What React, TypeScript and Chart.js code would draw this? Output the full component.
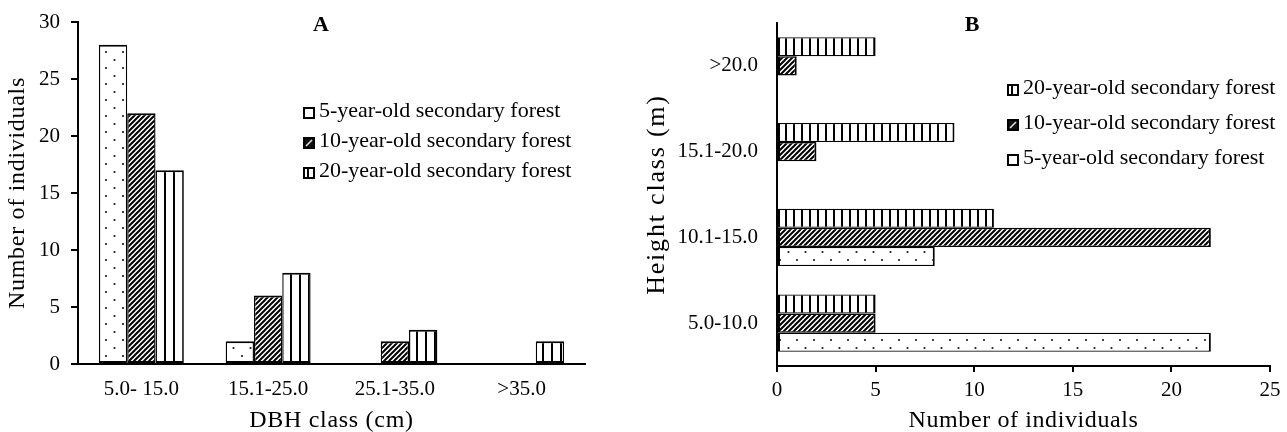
import React, { useEffect, useRef } from 'react';
import { Chart, registerables } from 'chart.js';

Chart.register(...registerables);

// ---------- data ----------
const dbhClasses = ['5.0- 15.0', '15.1-25.0', '25.1-35.0', '>35.0'];
const dbh5yr = [28, 2, 0, 0];
const dbh10yr = [22, 6, 2, 0];
const dbh20yr = [17, 8, 3, 2];

const heightClasses = ['>20.0', '15.1-20.0', '10.1-15.0', '5.0-10.0'];
const height20yr = [5, 9, 11, 5];
const height10yr = [1, 2, 22, 5];
const height5yr = [0, 0, 8, 22];

const name5 = '5-year-old secondary forest';
const name10 = '10-year-old secondary forest';
const name20 = '20-year-old secondary forest';

const FONT = '"Liberation Serif", "Times New Roman", Times, serif';

// ---------- patterns ----------
function makeTile(w: number, h: number, draw: (g: CanvasRenderingContext2D) => void) {
  const c = document.createElement('canvas');
  c.width = w;
  c.height = h;
  const g = c.getContext('2d') as CanvasRenderingContext2D;
  g.fillStyle = '#fff';
  g.fillRect(0, 0, w, h);
  draw(g);
  return c;
}

function dotPattern(ctx: CanvasRenderingContext2D) {
  const t = makeTile(17, 16, (g) => {
    g.fillStyle = '#1a1a1a';
    g.beginPath();
    g.arc(4, 4, 1.1, 0, Math.PI * 2);
    g.fill();
    g.beginPath();
    g.arc(12.5, 12, 1.1, 0, Math.PI * 2);
    g.fill();
  });
  return ctx.createPattern(t, 'repeat') as CanvasPattern;
}

function hatchPattern(ctx: CanvasRenderingContext2D) {
  const s = 5;
  const t = makeTile(s, s, (g) => {
    g.strokeStyle = '#000';
    g.lineWidth = 2;
    g.beginPath();
    g.moveTo(-1, s + 1);
    g.lineTo(s + 1, -1);
    g.moveTo(-1, 1);
    g.lineTo(1, -1);
    g.moveTo(s - 1, s + 1);
    g.lineTo(s + 1, s - 1);
    g.stroke();
  });
  return ctx.createPattern(t, 'repeat') as CanvasPattern;
}

function stripePattern(ctx: CanvasRenderingContext2D, period: number, offset: number) {
  const t = makeTile(period, 4, (g) => {
    g.fillStyle = '#000';
    g.fillRect(offset, 0, 2, 4);
  });
  return ctx.createPattern(t, 'repeat') as CanvasPattern;
}

// ---------- legend icons ----------
function iconPlain() {
  return makeTile(12, 12, (g) => {
    g.strokeStyle = '#000';
    g.lineWidth = 2;
    g.strokeRect(1, 1, 10, 10);
  });
}
function iconHatch() {
  return makeTile(12, 12, (g) => {
    g.fillStyle = '#111';
    g.fillRect(0, 0, 12, 12);
    g.strokeStyle = '#ddd';
    g.lineWidth = 1.6;
    g.beginPath();
    g.moveTo(3, 9);
    g.lineTo(9, 3);
    g.stroke();
    g.strokeStyle = '#000';
    g.lineWidth = 2;
    g.strokeRect(1, 1, 10, 10);
  });
}
function iconStripe() {
  return makeTile(12, 12, (g) => {
    g.fillStyle = '#000';
    g.fillRect(4, 1, 2, 10);
    g.strokeStyle = '#000';
    g.lineWidth = 2;
    g.strokeRect(1, 1, 10, 10);
  });
}

type LegendItem = { icon: HTMLCanvasElement; text: string };

function overlayPlugin(
  items: LegendItem[],
  x: number,
  y0: number,
  spacing: number,
  label: string,
  labelX: number,
  labelY: number
) {
  return {
    id: 'overlay',
    afterDraw(chart: any) {
      const ctx = chart.ctx as CanvasRenderingContext2D;
      ctx.save();
      ctx.fillStyle = '#000';
      ctx.textBaseline = 'middle';
      ctx.textAlign = 'left';
      ctx.font = `22px ${FONT}`;
      items.forEach((it, i) => {
        const yc = y0 + i * spacing;
        ctx.drawImage(it.icon, x, Math.round(yc - 6));
        ctx.fillText(it.text, x + 16, yc - 2);
      });
      ctx.font = `bold 22px ${FONT}`;
      ctx.textAlign = 'center';
      ctx.fillText(label, labelX, labelY);
      ctx.restore();
    },
  };
}

// widen the axis-title lettering the way the reference shows it
function titleSpacingPlugin(spacing: Record<string, number>) {
  return {
    id: 'titleSpacing',
    afterUpdate(chart: any) {
      Object.keys(spacing).forEach((id) => {
        const s = chart.scales[id];
        if (!s || s.__spaced) return;
        const orig = s.drawTitle;
        s.drawTitle = function (...args: any[]) {
          const c = this.ctx as any;
          c.save();
          c.letterSpacing = spacing[id] + 'px';
          orig.apply(this, args);
          c.restore();
        };
        s.__spaced = true;
      });
    },
  };
}

function fixSize(prop: 'width' | 'height', v: number) {
  return (s: any) => {
    s[prop] = v;
    s.paddingTop = 0;
    s.paddingBottom = 0;
    s.paddingLeft = 0;
    s.paddingRight = 0;
  };
}

const tickFont = { family: FONT, size: 21 };
const titleFont = { family: FONT, size: 24 };
const titleFontB = { family: FONT, size: 26 };

export default function App() {
  const refA = useRef<HTMLCanvasElement | null>(null);
  const refB = useRef<HTMLCanvasElement | null>(null);

  useEffect(() => {
    document.body.style.margin = '0';
    const cA = refA.current as HTMLCanvasElement;
    const cB = refB.current as HTMLCanvasElement;
    const ctxA = cA.getContext('2d') as CanvasRenderingContext2D;
    const ctxB = cB.getContext('2d') as CanvasRenderingContext2D;

    const chartA = new Chart(cA, {
      type: 'bar',
      data: {
        labels: dbhClasses,
        datasets: [
          { label: name5, data: dbh5yr, backgroundColor: dotPattern(ctxA) },
          { label: name10, data: dbh10yr, backgroundColor: hatchPattern(ctxA) },
          { label: name20, data: dbh20yr, backgroundColor: stripePattern(ctxA, 9, 2) },
        ].map((d) => ({
          ...d,
          borderColor: '#000',
          borderWidth: { top: 2, bottom: 2, left: 1.4, right: 1.4 },
          borderSkipped: false,
          categoryPercentage: 0.67,
          barPercentage: 1,
        })),
      },
      options: {
        animation: false,
        responsive: false,
        layout: { autoPadding: false, padding: { left: 0, right: 55, top: 22, bottom: 0 } },
        plugins: { legend: { display: false }, tooltip: { enabled: false }, title: { display: false } },
        scales: {
          x: {
            grid: { display: false, drawTicks: false },
            border: { display: true, color: '#000', width: 2 },
            ticks: { font: tickFont, color: '#000', padding: 13, maxRotation: 0, autoSkip: false },
            title: { display: true, text: 'DBH class (cm)', font: titleFont, color: '#000', padding: { top: 4, bottom: -3 } },
            afterFit: fixSize('height', 68),
          },
          y: {
            min: 0,
            max: 30,
            ticks: { stepSize: 5, font: tickFont, color: '#000', padding: 11 },
            grid: { display: true, drawOnChartArea: false, drawTicks: true, tickLength: 7, color: '#000', lineWidth: 2 },
            border: { display: true, color: '#000', width: 2 },
            title: { display: true, text: 'Number of individuals', font: titleFont, color: '#000', padding: { top: 3, bottom: 4 } },
            afterFit: fixSize('width', 78),
          },
        },
      },
      plugins: [
        titleSpacingPlugin({ x: 0.7, y: 0.7 }),
        overlayPlugin(
          [
            { icon: iconPlain(), text: name5 },
            { icon: iconHatch(), text: name10 },
            { icon: iconStripe(), text: name20 },
          ],
          303,
          113,
          30,
          'A',
          321,
          25
        ),
      ],
    } as any);

    const chartB = new Chart(cB, {
      type: 'bar',
      data: {
        labels: heightClasses,
        datasets: [
          { label: name20, data: height20yr, backgroundColor: stripePattern(ctxB, 8, 1) },
          { label: name10, data: height10yr, backgroundColor: hatchPattern(ctxB) },
          { label: name5, data: height5yr, backgroundColor: dotPattern(ctxB) },
        ].map((d) => ({
          ...d,
          borderColor: '#000',
          borderWidth: { top: 1.4, bottom: 1.4, left: 2, right: 2 },
          borderSkipped: false,
          categoryPercentage: 0.67,
          barPercentage: 1,
        })),
      },
      options: {
        indexAxis: 'y',
        animation: false,
        responsive: false,
        layout: { autoPadding: false, padding: { left: 0, right: 17, top: 23, bottom: 0 } },
        plugins: { legend: { display: false }, tooltip: { enabled: false }, title: { display: false } },
        scales: {
          x: {
            min: 0,
            max: 25,
            ticks: { stepSize: 5, font: tickFont, color: '#000', padding: 6 },
            grid: { display: true, drawOnChartArea: false, drawTicks: true, tickLength: 6, color: '#000', lineWidth: 2 },
            border: { display: true, color: '#000', width: 2 },
            title: { display: true, text: 'Number of individuals', font: titleFont, color: '#000', padding: { top: 4, bottom: -3 } },
            afterFit: fixSize('height', 66),
          },
          y: {
            grid: { display: false, drawTicks: false },
            border: { display: true, color: '#000', width: 2 },
            ticks: { font: tickFont, color: '#000', padding: 19, autoSkip: false },
            title: { display: true, text: 'Height class (m)', font: titleFontB, color: '#000', padding: { top: 2, bottom: 4 } },
            afterFit: fixSize('width', 137),
          },
        },
      },
      plugins: [
        titleSpacingPlugin({ x: 0.6, y: 1.8 }),
        overlayPlugin(
          [
            { icon: iconStripe(), text: name20 },
            { icon: iconHatch(), text: name10 },
            { icon: iconPlain(), text: name5 },
          ],
          367,
          90,
          35,
          'B',
          332,
          25
        ),
      ],
    } as any);

    return () => {
      chartA.destroy();
      chartB.destroy();
    };
  }, []);

  return (
    <div style={{ position: 'fixed', left: 0, top: 0, width: 1287, height: 432, background: '#fff' }}>
      <canvas
        ref={refA}
        width={640}
        height={432}
        style={{ position: 'absolute', left: 0, top: 0, width: 640, height: 432 }}
      />
      <canvas
        ref={refB}
        width={647}
        height={432}
        style={{ position: 'absolute', left: 640, top: 0, width: 647, height: 432 }}
      />
    </div>
  );
}
